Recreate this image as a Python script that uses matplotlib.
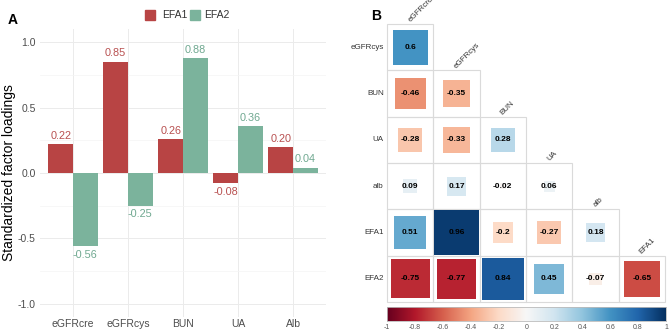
import numpy as np
import matplotlib.pyplot as plt
from matplotlib.patches import Rectangle

plt.rcParams["font.family"] = ["Liberation Sans", "DejaVu Sans"]

# panel A data
variables = ["eGFRcre", "eGFRcys", "BUN", "UA", "Alb"]
efa1 = [0.22, 0.85, 0.26, -0.08, 0.20]
efa2 = [-0.56, -0.25, 0.88, 0.36, 0.04]

# panel B data (lower triangle, no diagonal)
row_names = ["eGFRcys", "BUN", "UA", "alb", "EFA1", "EFA2"]
col_names = ["eGFRcre", "eGFRcys", "BUN", "UA", "alb", "EFA1"]
corr_rows = [
    [0.6],
    [-0.46, -0.35],
    [-0.28, -0.33, 0.28],
    [0.09, 0.17, -0.02, 0.06],
    [0.51, 0.96, -0.2, -0.27, 0.18],
    [-0.75, -0.77, 0.84, 0.45, -0.07, -0.65],
]
cbar_ticks = [-1, -0.8, -0.6, -0.4, -0.2, 0, 0.2, 0.4, 0.6, 0.8, 1]

red = "#B84444"
green = "#7BB39C"
W, H = 669, 331

fig = plt.figure(figsize=(W / 100, H / 100), dpi=100)


def box(x0, y0, x1, y1):
    # pixel box -> figure fractions
    return [x0 / W, 1 - y1 / H, (x1 - x0) / W, (y1 - y0) / H]


# ---------------- panel A ----------------
ax = fig.add_axes(box(40, 29, 326, 317))
x = np.arange(1, len(variables) + 1)
bw = 0.45
ax.bar(x - bw / 2, efa1, width=bw, color=red, zorder=2)
ax.bar(x + bw / 2, efa2, width=bw, color=green, zorder=2)
for xi, v in zip(x - bw / 2, efa1):
    ax.text(xi, v + (0.025 if v >= 0 else -0.025), f"{v:.2f}", color="#B85050",
            ha="center", va="bottom" if v >= 0 else "top", fontsize=7.8)
for xi, v in zip(x + bw / 2, efa2):
    ax.text(xi, v + (0.025 if v >= 0 else -0.025), f"{v:.2f}", color="#6FA890",
            ha="center", va="bottom" if v >= 0 else "top", fontsize=7.8)

ax.set_xlim(0.4, 5.6)
ax.set_ylim(-1.1, 1.1)
ax.set_xticks(x)
ax.set_xticklabels(variables)
ax.set_yticks([-1.0, -0.5, 0.0, 0.5, 1.0])
ax.set_yticklabels(["-1.0", "-0.5", "0.0", "0.5", "1.0"])
ax.set_yticks([-0.75, -0.25, 0.25, 0.75], minor=True)
ax.tick_params(axis="both", length=0, labelsize=7.5, colors="#4D4D4D")
ax.tick_params(axis="x", pad=1.5)
ax.tick_params(axis="y", pad=3)
ax.tick_params(axis="y", which="minor", length=0)
ax.grid(True, which="major", color="#EBEBEB", linewidth=0.7, zorder=0)
ax.grid(True, which="minor", axis="y", color="#F4F4F4", linewidth=0.5, zorder=0)
for s in ax.spines.values():
    s.set_visible(False)
ax.set_ylabel("Standardized factor loadings", fontsize=10)
ax.yaxis.set_label_coords(-0.084, 0.5)

# legend
fig.patches.append(Rectangle((145 / W, 1 - 19.5 / H), 10 / W, 10 / H, color=red,
                             transform=fig.transFigure, figure=fig))
fig.text(162 / W, 1 - 14.5 / H, "EFA1", fontsize=7.5, va="center", color="#333333")
fig.patches.append(Rectangle((190 / W, 1 - 19.5 / H), 10 / W, 10 / H, color=green,
                             transform=fig.transFigure, figure=fig))
fig.text(204 / W, 1 - 14.5 / H, "EFA2", fontsize=7.5, va="center", color="#333333")

fig.text(8 / W, 1 - 20 / H, "A", fontsize=10, fontweight="bold", va="center")
fig.text(371 / W, 1 - 16 / H, "B", fontsize=10, fontweight="bold", va="center")

# ---------------- panel B ----------------
cmap = plt.get_cmap("RdBu")
bx = fig.add_axes(box(387, 24, 665, 302))
bx.set_xlim(0, 6)
bx.set_ylim(6, 0)
bx.axis("off")
for i, row in enumerate(corr_rows):
    for j, r in enumerate(row):
        bx.add_patch(Rectangle((j, i), 1, 1, fill=False, edgecolor="#DADADA",
                               linewidth=0.8, clip_on=False))
        s = np.sqrt(abs(r)) * 0.98
        bx.add_patch(Rectangle((j + 0.5 - s / 2, i + 0.5 - s / 2), s, s,
                               facecolor=cmap((r + 1) / 2), edgecolor="none"))
        bx.text(j + 0.5, i + 0.5, f"{r:g}", ha="center", va="center",
                fontsize=6, fontweight="bold", color="black")
for i, name in enumerate(row_names):
    bx.text(-0.07, i + 0.5, name, ha="right", va="center", fontsize=5.8,
            color="#333333", clip_on=False)
for j, name in enumerate(col_names):
    bx.text(j + 0.5, j - 0.04, name, ha="left", va="baseline", rotation=45,
            rotation_mode="anchor", fontsize=5.8, color="#333333", clip_on=False)

# colorbar
cx = fig.add_axes(box(387, 307, 666, 321))
grad = np.linspace(-1, 1, 256).reshape(1, -1)
cx.imshow(grad, cmap=cmap, aspect="auto", extent=[-1, 1, 0, 1], vmin=-1, vmax=1)
cx.set_yticks([])
cx.set_xticks(cbar_ticks)
cx.set_xticklabels([f"{t:g}" for t in cbar_ticks])
cx.tick_params(axis="x", labelsize=5, length=0, colors="#555555", pad=2)
for s in cx.spines.values():
    s.set_color("#BBBBBB")
    s.set_linewidth(0.6)

fig.savefig("out.png", dpi=100)
